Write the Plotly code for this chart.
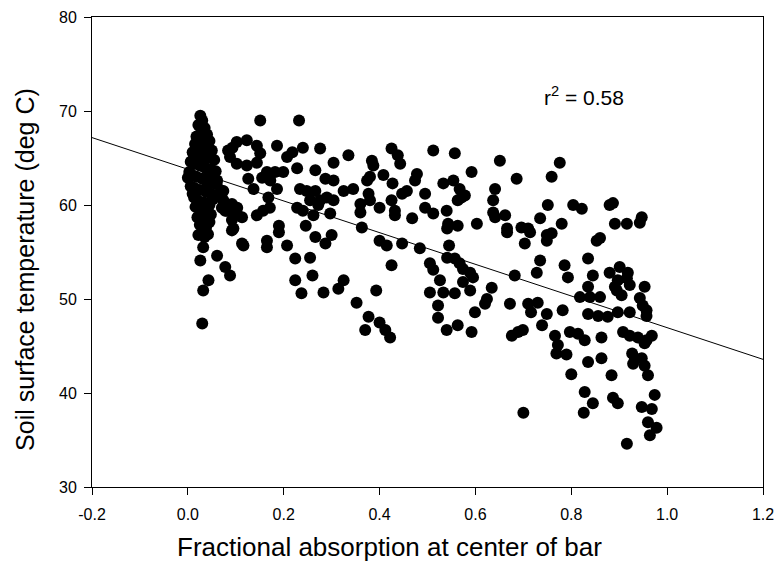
import plotly.graph_objects as go

# Fractional absorption (x) and soil surface temperature (y) for each plot
absorption = [
    # dense group near zero absorption
    0.026, 0.030, 0.022, 0.035, 0.028, 0.040, 0.018, 0.032, 0.045, 0.020, 0.015, 0.025, 0.038, 0.050, 0.035, 0.010,
    0.020, 0.030, 0.042, 0.012, 0.055, 0.006, 0.014, 0.025, 0.035, 0.048, 0.058, 0.003, 0.045, 0.009, 0.018, 0.000,
    0.030, 0.040, 0.050, 0.060, 0.006, 0.040, 0.014, 0.025, 0.038, 0.048, 0.010, 0.056, 0.013, 0.052, 0.020, 0.032,
    0.045, 0.016, 0.028, 0.040, 0.048, 0.020, 0.033, 0.045, 0.025, 0.038, 0.030, 0.042, 0.022, 0.035,
    0.032, 0.026, 0.061, 0.078, 0.088, 0.043, 0.032, 0.030,
    0.084, 0.078, 0.103, 0.092, 0.113, 0.074, 0.061,
    # 0.05 - 0.25
    0.093, 0.102, 0.123, 0.144, 0.151, 0.144, 0.123, 0.102, 0.088,
    0.151, 0.232, 0.186, 0.207, 0.218, 0.240, 0.228, 0.165, 0.182, 0.199, 0.155, 0.172, 0.126, 0.137, 0.186, 0.168,
    0.071, 0.074, 0.071, 0.081, 0.092, 0.102, 0.092, 0.095, 0.113, 0.144, 0.157, 0.171, 0.190, 0.190, 0.116, 0.165,
    0.165, 0.207, 0.228, 0.240, 0.248, 0.234, 0.246, 0.224, 0.224, 0.237, 0.255, 0.260,
    # 0.25 - 0.55
    0.276, 0.266, 0.304, 0.335, 0.287, 0.304, 0.266, 0.255, 0.276, 0.290, 0.304, 0.297, 0.272, 0.262, 0.325, 0.345,
    0.384, 0.387, 0.374, 0.380, 0.408, 0.425, 0.438, 0.443, 0.478, 0.474, 0.512, 0.533, 0.427, 0.377, 0.360, 0.360,
    0.380, 0.400, 0.425, 0.432, 0.432, 0.447, 0.457, 0.495, 0.495, 0.468, 0.512, 0.540, 0.543, 0.363, 0.400, 0.415,
    0.447, 0.484, 0.545, 0.266, 0.287, 0.300, 0.425, 0.325, 0.314, 0.283, 0.393, 0.352, 0.377, 0.400, 0.370, 0.412,
    0.422, 0.505, 0.512, 0.526, 0.505, 0.533, 0.522, 0.522, 0.540,
    # 0.55 - 0.83
    0.557, 0.651, 0.776, 0.592, 0.554, 0.686, 0.759, 0.567, 0.571, 0.578, 0.563, 0.641, 0.637, 0.637, 0.641, 0.662,
    0.751, 0.804, 0.822, 0.541, 0.563, 0.603, 0.666, 0.666, 0.696, 0.710, 0.714, 0.735, 0.780, 0.749, 0.759, 0.749,
    0.703, 0.541, 0.557, 0.567, 0.574, 0.589, 0.595, 0.557, 0.589, 0.574, 0.634, 0.624, 0.620, 0.682, 0.735, 0.728,
    0.786, 0.793, 0.672, 0.710, 0.730, 0.716, 0.749, 0.782, 0.599, 0.563, 0.592, 0.676, 0.689, 0.699, 0.739, 0.766,
    0.772, 0.797, 0.814, 0.828, 0.700, 0.769, 0.790, 0.800,
    # 0.82 - 1.0
    0.880, 0.887, 0.891, 0.916, 0.943, 0.947, 0.860, 0.853, 0.835, 0.845, 0.880, 0.901, 0.918, 0.916, 0.897, 0.835,
    0.891, 0.922, 0.953, 0.818, 0.839, 0.860, 0.895, 0.905, 0.943, 0.949, 0.957, 0.957, 0.835, 0.856, 0.876, 0.897,
    0.922, 0.908, 0.922, 0.939, 0.957, 0.968, 0.953, 0.863, 0.927, 0.933, 0.947, 0.929, 0.953, 0.960, 0.835, 0.863,
    0.884, 0.828, 0.845, 0.826, 0.887, 0.897, 0.947, 0.968, 0.974, 0.960, 0.978, 0.964, 0.916,
]

temperature = [
    69.5, 69.0, 68.5, 68.2, 67.8, 67.5, 67.3, 67.0, 66.8, 66.9, 66.5, 66.3, 66.0, 65.8, 65.6, 65.6,
    65.4, 65.2, 65.0, 64.9, 64.8, 64.6, 64.4, 64.2, 64.0, 63.8, 63.6, 63.5, 63.3, 63.2, 63.0, 62.9,
    62.8, 62.6, 62.4, 62.2, 62.0, 61.9, 61.8, 61.6, 61.4, 61.2, 61.2, 61.0, 60.8, 60.6, 60.5, 60.3,
    60.0, 59.8, 59.5, 59.3, 59.0, 58.7, 58.4, 58.2, 57.9, 57.6, 57.2, 56.9, 56.8, 56.6,
    55.5, 54.1, 54.6, 53.4, 52.5, 52.0, 50.9, 47.4,
    65.8, 59.4, 59.7, 57.3, 55.9, 61.5, 62.6,
    66.1, 66.7, 66.9, 66.3, 65.5, 64.5, 64.2, 64.4, 65.1,
    69.0, 69.0, 66.3, 65.1, 65.6, 66.1, 63.9, 63.5, 63.5, 63.5, 62.9, 62.6, 62.8, 61.7, 61.7, 60.8,
    61.5, 60.5, 59.7, 59.4, 60.1, 59.1, 58.4, 57.5, 58.7, 58.9, 59.4, 59.7, 57.8, 57.1, 55.7, 56.2,
    55.5, 55.7, 59.7, 59.4, 61.5, 61.7, 57.8, 54.3, 52.0, 50.6, 54.4, 52.5,
    66.0, 63.7, 64.5, 65.3, 62.8, 62.6, 61.5, 60.5, 60.5, 60.8, 60.5, 59.1, 60.0, 58.9, 61.5, 61.7,
    64.7, 64.2, 62.6, 63.0, 63.2, 66.0, 65.3, 64.4, 63.3, 62.6, 65.8, 62.3, 62.3, 61.2, 60.1, 59.2,
    60.5, 59.7, 60.5, 59.4, 58.9, 61.2, 61.5, 61.2, 59.7, 58.6, 59.1, 59.4, 58.0, 57.6, 56.2, 55.7,
    55.9, 55.4, 55.7, 56.6, 55.9, 56.8, 53.6, 52.0, 51.1, 50.7, 50.9, 49.6, 48.1, 47.5, 46.7, 46.7,
    45.9, 53.8, 53.1, 52.0, 50.7, 50.7, 49.3, 48.0, 46.7,
    65.5, 64.7, 64.5, 63.5, 62.6, 62.8, 63.0, 61.7, 60.8, 61.0, 60.5, 61.7, 60.5, 59.2, 58.7, 58.9,
    60.0, 60.0, 59.6, 57.5, 57.8, 58.0, 57.5, 57.1, 57.6, 57.5, 57.1, 58.6, 58.0, 56.8, 57.0, 56.2,
    55.9, 54.4, 54.3, 53.8, 53.2, 52.8, 52.3, 50.6, 50.9, 51.8, 51.2, 50.0, 49.5, 52.5, 54.1, 52.8,
    53.6, 52.3, 49.5, 49.5, 49.6, 48.6, 48.4, 48.8, 48.6, 47.2, 46.5, 46.1, 46.5, 46.7, 47.2, 46.1,
    45.1, 46.5, 46.3, 45.6, 37.9, 44.2, 44.1, 42.0,
    60.0, 60.2, 58.0, 58.0, 58.1, 58.7, 56.5, 56.2, 54.3, 52.5, 52.8, 53.4, 52.8, 52.2, 52.0, 51.3,
    51.3, 51.5, 51.3, 50.2, 50.2, 50.2, 50.9, 50.4, 50.1, 49.3, 48.8, 48.2, 48.4, 48.2, 48.1, 48.6,
    48.6, 46.5, 46.1, 45.9, 45.6, 46.1, 45.3, 45.9, 44.2, 43.7, 43.7, 43.1, 42.9, 41.9, 43.3, 43.7,
    41.9, 40.1, 38.9, 37.9, 39.5, 38.9, 38.5, 38.3, 39.8, 36.9, 36.3, 35.5, 34.6,
]

# Least-squares fit line
fit_intercept = 63.8
fit_slope = -16.85
fit_x = [-0.2, 1.2]
fit_y = [fit_intercept + fit_slope * v for v in fit_x]

x_ticks = [-0.2, 0.0, 0.2, 0.4, 0.6, 0.8, 1.0, 1.2]
x_tick_text = ["-0.2", "0.0", "0.2", "0.4", "0.6", "0.8", "1.0", "1.2"]
y_ticks = [30, 40, 50, 60, 70, 80]

x_title = "Fractional absorption at center of bar"
y_title = "Soil surface temperature (deg C)"

font_family = "Liberation Sans, Arial, sans-serif"

fig = go.Figure()
fig.add_trace(go.Scatter(
    x=absorption, y=temperature, mode="markers",
    marker=dict(color="black", size=12, line=dict(width=0)),
    showlegend=False, hoverinfo="x+y",
))
fig.add_trace(go.Scatter(
    x=fit_x, y=fit_y, mode="lines",
    line=dict(color="black", width=1),
    showlegend=False, hoverinfo="skip",
))

fig.add_annotation(
    x=0.738, y=71.6, xref="x", yref="y", xanchor="left", yanchor="middle",
    text="r<sup>2</sup> = 0.58", showarrow=False,
    font=dict(family=font_family, size=21, color="black"),
)

# Axis titles placed as paper-anchored text
fig.add_annotation(
    x=0.444, y=-0.128, xref="paper", yref="paper", xanchor="center", yanchor="middle",
    text=x_title, showarrow=False,
    font=dict(family=font_family, size=26, color="black"),
)
fig.add_annotation(
    x=-0.0998, y=0.462, xref="paper", yref="paper", xanchor="center", yanchor="middle",
    text=y_title, textangle=-90, showarrow=False,
    font=dict(family=font_family, size=25, color="black"),
)

axis_common = dict(
    showline=True, linecolor="black", linewidth=1, mirror=True,
    ticks="outside", ticklen=7, tickwidth=1, tickcolor="black",
    showgrid=False, zeroline=False, automargin=False,
    tickfont=dict(family=font_family, size=16, color="black"),
)

fig.update_xaxes(
    range=[-0.2, 1.2], tickvals=x_ticks, ticktext=x_tick_text,
    ticklabelstandoff=6, **axis_common,
)
fig.update_yaxes(
    range=[30, 80], tickvals=y_ticks,
    ticklabelstandoff=4, **axis_common,
)

fig.update_layout(
    width=779, height=561,
    margin=dict(l=92, r=16, t=17, b=74),
    paper_bgcolor="white", plot_bgcolor="white",
    font=dict(family=font_family, color="black"),
)

fig.write_html("out.html")
